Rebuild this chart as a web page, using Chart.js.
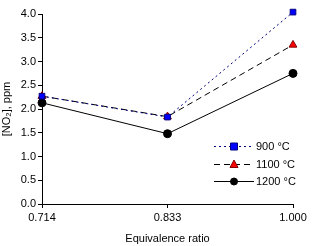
<!DOCTYPE html>
<html><head><meta charset="utf-8">
<script src="https://cdn.jsdelivr.net/npm/chart.js@4/dist/chart.umd.min.js"></script>
<style>html,body{margin:0;padding:0;background:#fff}#w{width:313px;height:246px}</style>
</head><body><div id="w"><canvas id="c"></canvas></div>
<script>
const categories = ['0.714', '0.833', '1.000'];
const series900 = [2.27, 1.83, 4.04];
const series1100 = [2.27, 1.84, 3.35];
const series1200 = [2.13, 1.48, 2.75];
const seriesNames = ['900 °C', '1100 °C', '1200 °C'];
const yTicks = [0, 0.5, 1, 1.5, 2, 2.5, 3, 3.5, 4];

const FONT = 'Liberation Sans, Arial, sans-serif';

const legendPlugin = {
  id: 'customLegend',
  afterDraw(chart) {
    const ctx = chart.ctx;
    const x0 = 214, x1 = 254;
    const ys = [146, 164, 181];
    chart.data.datasets.forEach((ds, i) => {
      const y = ys[i];
      ctx.save();
      ctx.strokeStyle = ds.borderColor;
      ctx.lineWidth = 1;
      ctx.setLineDash(ds.borderDash || []);
      ctx.beginPath(); ctx.moveTo(x0, y + 0.5); ctx.lineTo(x1, y + 0.5); ctx.stroke();
      ctx.setLineDash([]);
      const cx = (x0 + x1) / 2;
      ctx.fillStyle = ds.pointBackgroundColor;
      ctx.strokeStyle = ds.pointBorderColor;
      ctx.beginPath();
      if (ds.pointStyle === 'rect') { ctx.rect(cx - 3.5, y - 3, 7, 7); }
      else if (ds.pointStyle === 'triangle') { ctx.moveTo(cx, y - 4); ctx.lineTo(cx + 4, y + 3.5); ctx.lineTo(cx - 4, y + 3.5); ctx.closePath(); }
      else { ctx.arc(cx, y + 0.5, 3.5, 0, Math.PI * 2); }
      ctx.fill(); ctx.stroke();
      ctx.fillStyle = '#000';
      ctx.font = '11px ' + FONT;
      ctx.textBaseline = 'middle';
      ctx.fillText(ds.label, x1 + 2, y + 1);
      ctx.restore();
    });
  }
};

new Chart(document.getElementById('c'), {
  type: 'line',
  data: {
    labels: categories,
    datasets: [
      { label: seriesNames[0], data: series900, borderColor: '#000080', borderWidth: 1, borderDash: [2, 3], clip: false,
        pointStyle: 'rect', pointRadius: 4, pointBackgroundColor: '#0000ff', pointBorderColor: '#000080', pointBorderWidth: 1 },
      { label: seriesNames[1], data: series1100, borderColor: '#000000', borderWidth: 1, borderDash: [6, 4], clip: false,
        pointStyle: 'triangle', pointRadius: 4.5, pointBackgroundColor: '#ff0000', pointBorderColor: '#800000', pointBorderWidth: 1 },
      { label: seriesNames[2], data: series1200, borderColor: '#000000', borderWidth: 1, clip: false,
        pointStyle: 'circle', pointRadius: 4, pointBackgroundColor: '#000000', pointBorderColor: '#000000', pointBorderWidth: 1 }
    ]
  },
  options: {
    responsive: true, maintainAspectRatio: false, animation: false,
    layout: { padding: { top: 14, right: 20, left: 0, bottom: 0 } },
    plugins: { legend: { display: false }, tooltip: { enabled: false } },
    scales: {
      x: {
        type: 'category', offset: false,
        grid: { drawOnChartArea: false, drawTicks: true, tickLength: 4, color: '#000' },
        border: { color: '#000', width: 1 },
        ticks: { color: '#000', font: { family: FONT, size: 11 }, padding: 3, maxRotation: 0 },
        title: { display: true, text: 'Equivalence ratio', color: '#000', font: { family: FONT, size: 11 }, padding: { top: 3, bottom: 0 } },
        afterFit(s) { s.height = 42; }
      },
      y: {
        min: 0, max: 4,
        afterBuildTicks(s) { s.ticks = yTicks.map(v => ({ value: v })); },
        grid: { drawOnChartArea: false, drawTicks: true, tickLength: 4, color: '#000' },
        border: { color: '#000', width: 1 },
        ticks: { color: '#000', font: { family: FONT, size: 11 }, padding: 2, callback: v => Number(v).toFixed(1) },
        title: { display: true, text: '[NO₂], ppm', color: '#000', font: { family: FONT, size: 11 }, padding: { top: 0, bottom: 0 } },
        afterFit(s) { s.width = 42; }
      }
    }
  },
  plugins: [legendPlugin]
});
</script>
</body></html>
